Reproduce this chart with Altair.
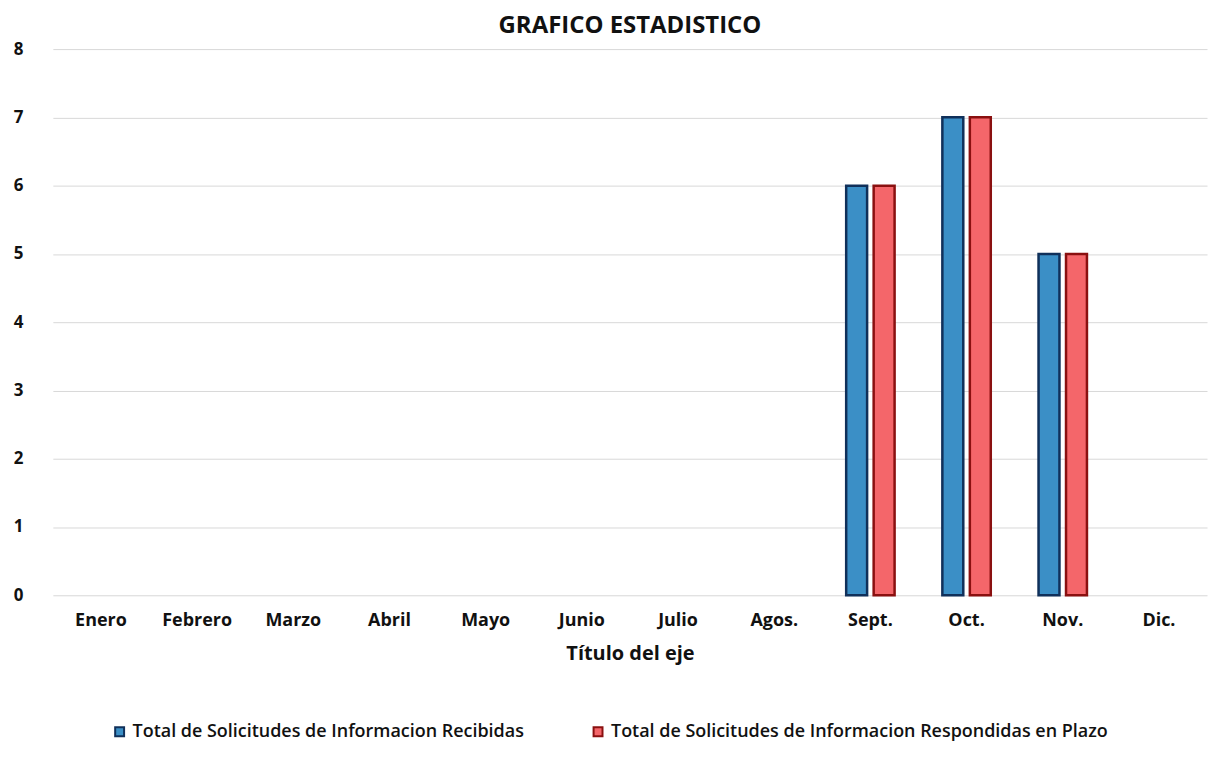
import altair as alt
import pandas as pd

months = ["Enero", "Febrero", "Marzo", "Abril", "Mayo", "Junio", "Julio", "Agos.", "Sept.", "Oct.", "Nov.", "Dic."]
recibidas = [0, 0, 0, 0, 0, 0, 0, 0, 6, 7, 5, 0]
respondidas = [0, 0, 0, 0, 0, 0, 0, 0, 6, 7, 5, 0]
series = ["Total  de Solicitudes de Informacion Recibidas",
          "Total  de Solicitudes de Informacion Respondidas en Plazo"]

rows = []
for m, a, b in zip(months, recibidas, respondidas):
    rows.append({"mes": m, "serie": series[0], "valor": a})
    rows.append({"mes": m, "serie": series[1], "valor": b})
df = pd.DataFrame(rows)

FONT = "Open Sans"
W, H = 1158, 548

chart = alt.Chart(df).mark_bar(strokeWidth=2.5, size=21).encode(
    x=alt.X("mes:N", sort=months, title="Título del eje",
            scale=alt.Scale(paddingInner=0.0, paddingOuter=0.0),
            axis=alt.Axis(labelAngle=0, labelFontSize=18, labelFontWeight="bold",
                          titleFontSize=20, titleFontWeight="bold", domain=False,
                          ticks=False, labelPadding=16, titlePadding=14,
                          labelColor="#111", titleColor="#111")),
    xOffset=alt.XOffset("serie:N", sort=series,
                        scale=alt.Scale(paddingInner=0.3, paddingOuter=0.9)),
    y=alt.Y("valor:Q", title=None, scale=alt.Scale(domain=[0, 8]),
            axis=alt.Axis(tickCount=8, labelFontSize=17, labelFontWeight="bold",
                          domain=False, ticks=False, labelPadding=30,
                          gridColor="#d8d8d8", labelColor="#111")),
    color=alt.Color("serie:N", sort=series,
                    scale=alt.Scale(domain=series, range=["#3b8fc6", "#f4666a"]),
                    legend=alt.Legend(orient="none", legendX=58, legendY=H + 128,
                                      direction="horizontal", title=None,
                                      symbolType="square", symbolSize=80,
                                      symbolStrokeWidth=2, labelFontSize=18,
                                      labelFontWeight=600,
                                      labelLimit=700, columnPadding=60)),
    stroke=alt.Stroke("serie:N", sort=series,
                      scale=alt.Scale(domain=series, range=["#10305a", "#8a1010"]),
                      legend=None),
    strokeOpacity=alt.condition(alt.datum.valor > 0, alt.value(1), alt.value(0)),
    opacity=alt.condition(alt.datum.valor > 0, alt.value(1), alt.value(0)),
).properties(
    width=W, height=H,
    title=alt.TitleParams("GRAFICO ESTADISTICO", fontSize=24, fontWeight="bold",
                          font=FONT, color="#111", offset=2),
).configure(font=FONT).configure_view(stroke=None).configure_legend(
    labelFont=FONT, labelColor="#111", symbolStrokeColor="#10305a")

chart.save("out.html", embed_options={"renderer": "svg", "actions": False})
